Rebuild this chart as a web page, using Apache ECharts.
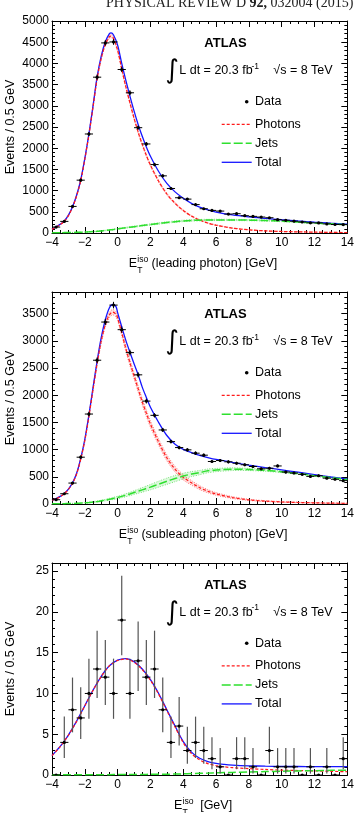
<!DOCTYPE html>
<html>
<head>
<meta charset="utf-8">
<script src="https://cdn.jsdelivr.net/npm/echarts@6.0.0/dist/echarts.min.js"></script>
<style>
html,body{margin:0;padding:0;background:#fff;}
#chart{width:357px;height:813px;}
</style>
</head>
<body>
<div id="chart"></div>
<script>
// ================= DATA =================
const binCenters = [-3.75,-3.25,-2.75,-2.25,-1.75,-1.25,-0.75,-0.25,0.25,0.75,1.25,1.75,2.25,2.75,3.25,3.75,4.25,4.75,5.25,5.75,6.25,6.75,7.25,7.75,8.25,8.75,9.25,9.75,10.25,10.75,11.25,11.75,12.25,12.75,13.25,13.75];
const binHalfWidth = 0.25;
const xRange = [-4, 14];
const xMajorStep = 2;

// Panel 1: leading photon
const leadData = [140,274,627,1246,2335,3675,4483,4506,3856,3307,2484,2100,1614,1348,1050,831,799,670,572,533,517,447,455,408,392,376,360,315,300,278,260,240,238,215,200,198];
const leadErr  = [12,17,25,35,48,61,67,67,62,58,50,46,40,37,32,29,28,26,24,23,23,21,21,20,20,19,19,18,17,17,16,15,15,15,14,14];
const leadX       = [-4,-3.75,-3.5,-3.25,-3,-2.75,-2.5,-2.25,-2,-1.75,-1.5,-1.25,-1,-0.75,-0.5,-0.4,-0.25,0,0.25,0.5,0.75,1,1.25,1.5,1.75,2,2.5,3,3.5,4,4.5,5,5.5,6,7,8,9,10,11,12,13,14];
const leadTotal   = [90,145,205,285,420,620,890,1250,1760,2340,3000,3680,4170,4510,4700,4720,4670,4430,4000,3600,3230,2880,2560,2280,2030,1810,1450,1170,970,820,700,610,545,495,425,380,345,312,283,256,232,210];
const leadPhotons = [85,140,198,277,410,608,876,1234,1740,2316,2970,3640,4120,4450,4630,4645,4590,4310,3870,3450,3070,2710,2380,2090,1830,1600,1220,920,700,530,400,305,235,185,115,75,50,36,27,20,15,11];
const leadJets    = [5,6,7,9,11,13,16,19,23,28,34,40,50,60,72,76,84,100,112,125,138,150,162,175,188,200,225,248,268,285,296,303,307,309,308,303,294,278,258,236,216,198];
const leadPhotonBand = [3,4,5,6,8,10,12,15,18,22,26,30,33,35,36,36,36,35,34,33,32,31,30,29,28,27,25,22,19,16,13,10,8,7,5,4,3,2,2,2,1,1];
const leadJetBand    = [1,1,1,1,2,2,2,3,3,4,4,5,6,7,8,8,9,10,10,11,12,13,13,14,14,15,16,17,17,17,17,17,16,16,15,14,13,12,11,10,9,8];

// Panel 2: subleading photon
const subData = [79,189,385,861,1655,2645,3347,3659,3207,2785,2376,1893,1631,1362,1148,1038,996,935,898,782,800,776,750,722,690,648,658,700,588,570,545,508,520,476,455,430];
const subErr  = [9,14,20,29,41,51,58,60,57,53,49,44,40,37,34,32,32,31,30,28,28,28,27,27,26,25,26,26,24,24,23,23,23,22,21,21];
const subX       = [-4,-3.75,-3.5,-3.25,-3,-2.75,-2.5,-2.25,-2,-1.75,-1.5,-1.25,-1,-0.75,-0.5,-0.3,-0.1,0,0.25,0.5,0.75,1,1.25,1.5,1.75,2,2.5,3,3.5,4,4.5,5,5.5,6,7,8,9,10,11,12,13,14];
const subTotal   = [72,100,140,195,275,390,565,840,1190,1640,2140,2630,3060,3390,3610,3670,3630,3520,3260,3010,2790,2580,2380,2150,1960,1780,1500,1260,1100,1005,945,895,855,820,765,715,670,628,585,540,497,460];
const subPhotons = [70,97,135,190,268,380,552,823,1168,1612,2105,2585,3000,3300,3480,3530,3490,3420,3150,2860,2600,2360,2120,1880,1670,1470,1140,850,640,490,390,300,235,185,118,76,53,38,28,21,16,12];
const subJets    = [3,4,5,6,8,10,13,17,22,28,35,45,58,72,88,100,113,120,140,162,185,210,235,260,285,310,365,418,468,515,550,578,610,625,640,635,618,592,560,522,485,450];
const subPhotonBand = [2,3,4,5,6,8,11,15,20,26,32,38,44,48,50,50,50,50,52,54,56,58,60,60,60,60,58,55,52,48,42,36,30,25,18,12,9,7,5,4,3,3];
const subJetBand    = [1,1,1,2,2,3,3,4,5,6,8,10,12,14,17,19,21,22,25,28,31,34,38,42,46,50,55,58,58,52,46,40,35,30,25,20,17,15,13,12,12,12];

// Panel 3: low-statistics sample
const eeData = [0,4,8,7,10,13,12,10,19,10,14,12,13,8,4,6,3,4,3,2,1,0,2,2,1,0,3,1,1,1,0,1,0,1,0,2];
const eeLow  = [null,2.09,5.23,4.42,6.89,9.44,8.58,6.89,14.68,6.89,10.3,8.58,9.44,5.23,2.09,3.62,1.37,2.09,1.37,0.71,0.17,null,0.71,0.71,0.17,null,1.37,0.17,0.17,0.17,null,0.17,null,0.17,null,0.71];
const eeHigh = [null,7.16,11.95,10.77,14.27,17.7,16.56,14.27,24.44,14.27,18.83,16.56,17.7,11.95,7.16,9.58,5.92,7.16,5.92,4.64,3.3,null,4.64,4.64,3.3,null,5.92,3.3,3.3,3.3,null,3.3,null,3.3,null,4.64];
const eeX       = [-4,-3.5,-3,-2.5,-2,-1.5,-1,-0.5,0,0.5,1,1.5,2,2.5,3,3.5,4,4.5,5,5.5,6,6.5,7,8,9,10,11,12,13,14];
const eeTotal   = [2.4,3.5,4.9,6.6,8.5,10.4,12.1,13.4,14.1,14.28,13.9,13.0,11.7,10.0,8.0,6.0,4.1,2.8,2.05,1.65,1.42,1.3,1.22,1.13,1.08,1.05,1.04,1.03,1.02,1.02];
const eePhotons = [2.38,3.48,4.88,6.58,8.48,10.38,12.08,13.38,14.05,14.23,13.84,12.93,11.62,9.91,7.9,5.88,3.96,2.62,1.85,1.4,1.15,1.0,0.9,0.78,0.68,0.6,0.55,0.5,0.45,0.4];
const eeJets    = [0.02,0.02,0.02,0.02,0.03,0.03,0.03,0.04,0.05,0.05,0.06,0.07,0.08,0.09,0.1,0.12,0.14,0.17,0.2,0.23,0.27,0.3,0.32,0.37,0.42,0.46,0.5,0.53,0.57,0.6];

// axis ranges: [max, major step, minor step]
const yAxesSpec = [[5000, 500, 100], [3900, 500, 100], [26, 5, 1]];
const xTitles = [' (leading photon) [GeV]', ' (subleading photon) [GeV]', '  [GeV]'];
const yTitle = 'Events / 0.5 GeV';
const legendNames = ['Data', 'Photons', 'Jets', 'Total'];

// ================= STYLE / LAYOUT =================
const FONT = 'Liberation Sans';
const BLACK = '#000';
const C_TOTAL = '#1515ff', C_PHOT = '#ff1a1a', C_JETS = '#2ee02e';
const gridTop = [21, 292, 563];
const panelDy = [0, 271, 541.6];
const G_LEFT = 52, G_W = 297, G_H = 212;

const canvas = document.createElement('canvas');
const ctx = canvas.getContext('2d');
function measure(t, size, weight) {
  ctx.font = (weight || 'normal') + ' ' + size + 'px "' + FONT + '"';
  return ctx.measureText(t).width;
}
const fmtX = v => v < 0 ? '\u2212' + (-v) : String(v);

const grids = [], xAxes = [], yAxes = [], series = [], graphics = [];

function panel(i, d) {
  const [ymax, ymaj, ymin] = yAxesSpec[i];
  grids.push({left: G_LEFT, top: gridTop[i], width: G_W, height: G_H});
  const axLine = {show: true, onZero: false, lineStyle: {color: BLACK, width: 1}};
  const xBase = {type: 'value', gridIndex: i, min: xRange[0], max: xRange[1], interval: xMajorStep,
    axisLine: axLine, splitLine: {show: false}, minorSplitLine: {show: false},
    axisTick: {show: true, inside: true, length: 6, lineStyle: {color: BLACK, width: 1}},
    minorTick: {show: true, splitNumber: 4, length: 3, lineStyle: {color: BLACK, width: 1}}};
  xAxes.push(Object.assign({}, xBase, {position: 'bottom',
    axisLabel: {show: true, margin: 4, color: BLACK, fontSize: 12, fontFamily: FONT, formatter: fmtX}}));
  xAxes.push(Object.assign({}, xBase, {position: 'top', axisLabel: {show: false}}));
  const yBase = {type: 'value', gridIndex: i, min: 0, max: ymax, interval: ymaj,
    axisLine: axLine, splitLine: {show: false},
    axisTick: {show: true, inside: true, length: 6, lineStyle: {color: BLACK, width: 1}}};
  yAxes.push(Object.assign({}, yBase, {position: 'left',
    axisLabel: {show: true, margin: 3, color: BLACK, fontSize: 12, fontFamily: FONT,
      formatter: v => (Math.abs(v % ymaj) < 1e-9 ? String(v) : '')}}));
  yAxes.push(Object.assign({}, yBase, {position: 'right', axisLabel: {show: false}}));
  const yMinor = {type: 'value', gridIndex: i, min: 0, max: ymax, interval: ymin,
    axisLine: {show: false, onZero: false}, splitLine: {show: false}, axisLabel: {show: false},
    axisTick: {show: true, inside: true, length: 3, lineStyle: {color: BLACK, width: 1}}};
  yAxes.push(Object.assign({}, yMinor, {position: 'left'}));
  yAxes.push(Object.assign({}, yMinor, {position: 'right'}));

  const xi = 2 * i, yi = 4 * i;
  // uncertainty bands
  function band(curve, hw, fill, edge) {
    series.push({type: 'custom', xAxisIndex: xi, yAxisIndex: yi, silent: true, clip: true, z: 1,
      data: [[d.x[0], 0]], encode: {x: 0, y: 1},
      renderItem: function (params, api) {
        const up = [], lo = [];
        for (let k = 0; k < d.x.length; k++) {
          up.push(api.coord([d.x[k], curve[k] + hw[k]]));
          lo.push(api.coord([d.x[k], Math.max(0, curve[k] - hw[k])]));
        }
        const poly = up.concat(lo.slice().reverse());
        return {type: 'group', children: [
          {type: 'polygon', shape: {points: poly, smooth: 0.25}, style: {fill: fill, stroke: null}},
          {type: 'polyline', shape: {points: up, smooth: 0.25}, style: {stroke: edge, lineWidth: 0.7, lineDash: [1, 1.5], fill: null}},
          {type: 'polyline', shape: {points: lo, smooth: 0.25}, style: {stroke: edge, lineWidth: 0.7, lineDash: [1, 1.5], fill: null}}
        ]};
      }});
  }
  if (d.pBand) band(d.photons, d.pBand, 'rgba(255,60,60,0.16)', 'rgba(255,0,0,0.7)');
  if (d.jBand) band(d.jets, d.jBand, 'rgba(40,220,40,0.16)', 'rgba(0,200,0,0.7)');

  const pts = arr => d.x.map((x, k) => [x, arr[k]]);
  const lineBase = {type: 'line', xAxisIndex: xi, yAxisIndex: yi, showSymbol: false, symbol: 'none',
    smooth: 0.3, silent: true, animation: false, clip: true};
  series.push(Object.assign({}, lineBase, {name: 'Total', data: pts(d.total), z: 3,
    lineStyle: {color: C_TOTAL, width: 1.3}}));
  series.push(Object.assign({}, lineBase, {name: 'Photons', data: pts(d.photons), z: 4,
    lineStyle: {color: C_PHOT, width: 1.2, type: [3, 2]}}));
  series.push(Object.assign({}, lineBase, {name: 'Jets', data: pts(d.jets), z: 4,
    lineStyle: {color: C_JETS, width: 1.5, type: [8, 3]}}));

  // data points with error bars
  series.push({type: 'custom', name: 'Data', xAxisIndex: xi, yAxisIndex: yi, silent: true, clip: true, z: 6,
    data: binCenters.map((x, k) => [x, d.values[k]]), encode: {x: 0, y: 1},
    renderItem: function (params, api) {
      const k = params.dataIndex;
      const x = api.value(0), y = api.value(1);
      const pl = api.coord([x - binHalfWidth, y]), pr = api.coord([x + binHalfWidth, y]), p = api.coord([x, y]);
      const ch = [{type: 'line', shape: {x1: pl[0], y1: pl[1], x2: pr[0], y2: pr[1]}, style: {stroke: BLACK, lineWidth: 1}}];
      const lo = d.lo[k], hi = d.hi[k];
      if (lo !== null && hi !== null) {
        const a = api.coord([x, lo]), b = api.coord([x, hi]);
        ch.push({type: 'line', shape: {x1: a[0], y1: a[1], x2: b[0], y2: b[1]}, style: {stroke: d.vColor, lineWidth: d.vWidth}});
      }
      ch.push({type: 'circle', shape: {cx: p[0], cy: p[1], r: 1.6}, style: {fill: BLACK}});
      return {type: 'group', children: ch};
    }});

  // ---------- texts ----------
  const dy = panelDy[i];
  const T = (x, y, text, o) => graphics.push(Object.assign({type: 'text', x: x, y: y, silent: true, z: 100,
    style: Object.assign({text: text, fill: BLACK, fontFamily: FONT, fontSize: 12.5, align: 'left', verticalAlign: 'middle'}, o || {})}));
  graphics.push({type: 'text', x: 11, y: gridTop[i] + G_H / 2, rotation: Math.PI / 2, silent: true, z: 100,
    style: {text: yTitle, fill: BLACK, fontFamily: FONT, fontSize: 12.5, align: 'center', verticalAlign: 'middle'}});
  const wE = measure('E', 12.5), wIso = measure('iso', 8.6), wRest = measure(xTitles[i], 12.5);
  const wTot = wE + wIso + wRest;
  const x0 = 203 - wTot / 2, ym = 263.5 + dy;
  T(x0, ym, 'E');
  T(x0 + wE + 0.3, ym - 3.6, 'iso', {fontSize: 8.6});
  T(x0 + wE + 0.3, ym + 7.3, 'T', {fontSize: 8.6});
  T(x0 + wE + wIso, ym, xTitles[i]);
  T(225.5, 43.8 + dy, 'ATLAS', {fontWeight: 'bold', align: 'center', fontSize: 13});
  T(172, 71.5 + dy, '\u222B', {fontFamily: 'DejaVu Sans', fontSize: 26, align: 'center'});
  T(179.3, 70.8 + dy, 'L dt = 20.3 fb');
  T(251.5, 66.2 + dy, '-1', {fontSize: 8.6});
  T(273.3, 70.8 + dy, '\u221As = 8 TeV');
  graphics.push({type: 'circle', silent: true, z: 100, shape: {cx: 246.7, cy: 101.7 + dy, r: 1.8}, style: {fill: BLACK}});
  T(255, 102 + dy, legendNames[0]);
  graphics.push({type: 'line', silent: true, z: 100, shape: {x1: 221.7, y1: 124.3 + dy, x2: 251.7, y2: 124.3 + dy},
    style: {stroke: C_PHOT, lineWidth: 1.2, lineDash: [3, 2]}});
  T(255, 124.3 + dy, legendNames[1]);
  graphics.push({type: 'line', silent: true, z: 100, shape: {x1: 221.7, y1: 143.3 + dy, x2: 251.7, y2: 143.3 + dy},
    style: {stroke: C_JETS, lineWidth: 1.5, lineDash: [9, 3]}});
  T(255, 143.3 + dy, legendNames[2]);
  graphics.push({type: 'line', silent: true, z: 100, shape: {x1: 221.7, y1: 162.3 + dy, x2: 251.7, y2: 162.3 + dy},
    style: {stroke: C_TOTAL, lineWidth: 1.3}});
  T(255, 162.3 + dy, legendNames[3]);
}

panel(0, {x: leadX, total: leadTotal, photons: leadPhotons, jets: leadJets, pBand: leadPhotonBand, jBand: leadJetBand,
  values: leadData, lo: leadData.map((v, k) => v - leadErr[k]), hi: leadData.map((v, k) => v + leadErr[k]), vColor: BLACK, vWidth: 1});
panel(1, {x: subX, total: subTotal, photons: subPhotons, jets: subJets, pBand: subPhotonBand, jBand: subJetBand,
  values: subData, lo: subData.map((v, k) => v - subErr[k]), hi: subData.map((v, k) => v + subErr[k]), vColor: BLACK, vWidth: 1});
panel(2, {x: eeX, total: eeTotal, photons: eePhotons, jets: eeJets,
  values: eeData, lo: eeLow, hi: eeHigh, vColor: '#555', vWidth: 1.2});

// journal header
graphics.push({type: 'text', x: 106, y: 3.0, silent: true, z: 100,
  style: {text: '{a|PHYSICAL REVIEW D }{b|92,}{a| 032004 (2015)}', fill: '#222', verticalAlign: 'middle', align: 'left',
    rich: {a: {fontFamily: 'Liberation Serif', fontSize: 14, fill: '#222'},
           b: {fontFamily: 'Liberation Serif', fontSize: 14, fontWeight: 'bold', fill: '#222'}}}});

const chart = echarts.init(document.getElementById('chart'), null, {renderer: 'canvas'});
chart.setOption({
  animation: false,
  backgroundColor: '#fff',
  grid: grids, xAxis: xAxes, yAxis: yAxes, series: series, graphic: graphics
});
</script>
</body>
</html>
